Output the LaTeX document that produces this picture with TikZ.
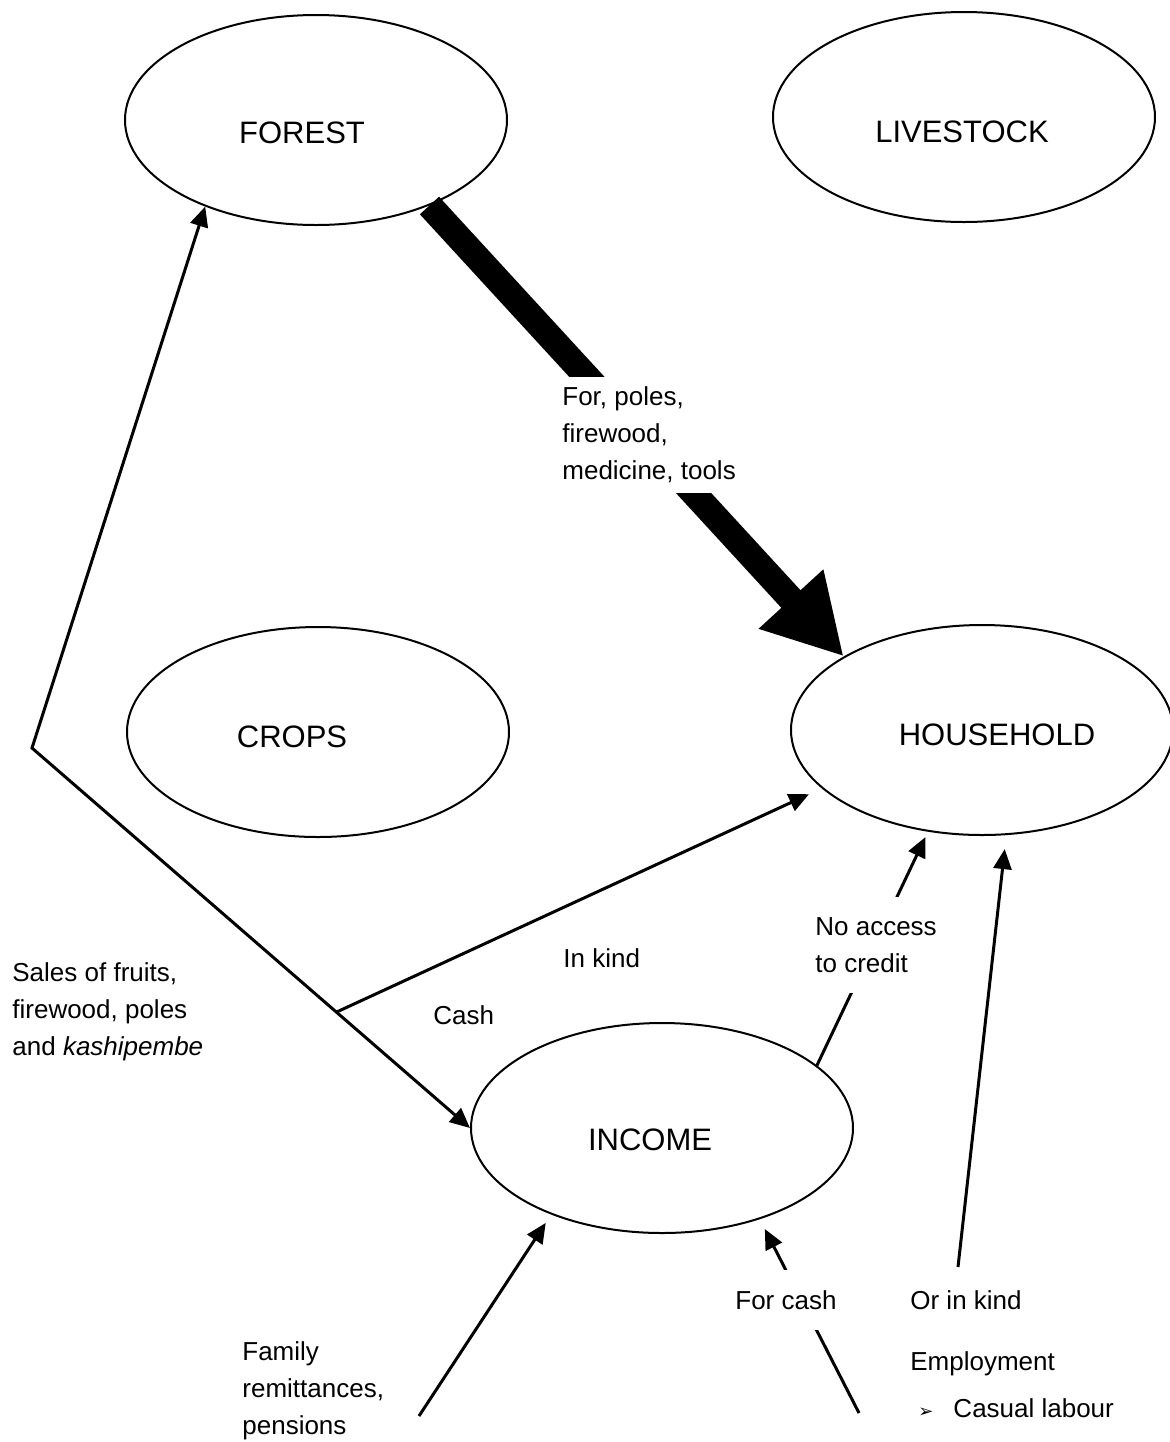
\documentclass[tikz,border=0pt]{standalone}
\usepackage{fontspec}
\setmainfont{Liberation Sans}
\newfontfamily\dingfont{DejaVu Sans}
\usetikzlibrary{arrows.meta, shapes.geometric}
\tikzset{
  poolNode/.style={
    draw,
    ellipse,
    line width=1pt,
    minimum width=191pt,
    minimum height=105pt,
    inner sep=0pt
  },
  poolName/.style={
    inner sep=0pt,
    font=\fontsize{15.5}{18}\selectfont
  },
  noteText/.style={
    inner sep=0pt,
    anchor=west,
    align=left,
    font=\fontsize{13}{18.5}\selectfont
  },
  coverNote/.style={
    noteText,
    fill=white,
    inner xsep=3pt
  },
  flowArrow/.style={
    line width=1.5pt,
    >={Triangle[length=10pt,width=9pt]},
    ->
  },
  bigFlow/.style={
    line width=13pt,
    -{Triangle[length=39pt,width=41pt]}
  }
}

\begin{document}
\begin{tikzpicture}[x=0.5pt, y=-0.5pt]
  \useasboundingbox (0,0) rectangle (1170,1442);
  % the five pools
  \node[poolNode, label={[poolName, xshift=-7pt, yshift=-6.5pt]center:FOREST}] (forest) at (316,120) {};
  \node[poolNode, label={[poolName, xshift=-1pt, yshift=-7.5pt]center:LIVESTOCK}] (livestock) at (964,117) {};
  \node[poolNode, label={[poolName, xshift=-13pt, yshift=-2.5pt]center:CROPS}] (crops) at (318,732) {};
  \node[poolNode, label={[poolName, xshift=7.5pt, yshift=-2.5pt]center:HOUSEHOLD}] (household) at (982,730) {};
  \node[poolNode, label={[poolName, xshift=-6pt, yshift=-6pt]center:INCOME}] (income) at (662,1128) {};

  % loose ends
  \coordinate (bend) at (32,748);
  \coordinate (familyTail) at (419,1416);
  \coordinate (cashTail) at (859,1413);
  \coordinate (kindTail) at (958,1267);

  % flows
  \draw[bigFlow] (forest.323) -- (household.152);
  \draw[flowArrow, <->] (forest.218) -- (bend) -- coordinate[pos=0.695] (split) (income.west);
  \draw[flowArrow, shorten >=7pt] (split) -- (household.200);
  \draw[flowArrow, shorten >=3pt] (income.22) -- (household.242);
  \draw[flowArrow, shorten >=7pt] (kindTail) -- (household.283);
  \draw[flowArrow, shorten >=5pt] (familyTail) -- (income.218);
  \draw[flowArrow, shorten >=5.5pt] (cashTail) -- (income.317);

  % notes (the white ones cut the flows)
  \node[coverNote, minimum height=58pt] (forNote) at (556,435) {For, poles,\\firewood,\\medicine, tools};
  \node[coverNote, minimum height=48pt] (creditNote) at (809,945) {No access\\to credit};
  \node[coverNote, minimum height=30pt] (forCashNote) at (729,1300) {For cash};
  \node[noteText] (salesNote) at (12,1012) {Sales of fruits,\\firewood, poles\\and \textit{kashipembe}};
  \node[noteText] (inKindNote) at (563,958) {In kind};
  \node[noteText] (cashNote) at (433,1015) {Cash};
  \node[noteText] (familyNote) at (242,1391) {Family\\remittances,\\pensions};
  \node[noteText] (orKindNote) at (910,1300) {Or in kind};
  \node[noteText] (employNote) at (910,1364) {Employment};
  \node[noteText] (casualNote) at (918,1408) {{\dingfont\fontsize{9}{9}\selectfont ➢}\hspace{10pt}Casual labour};
\end{tikzpicture}
\end{document}
